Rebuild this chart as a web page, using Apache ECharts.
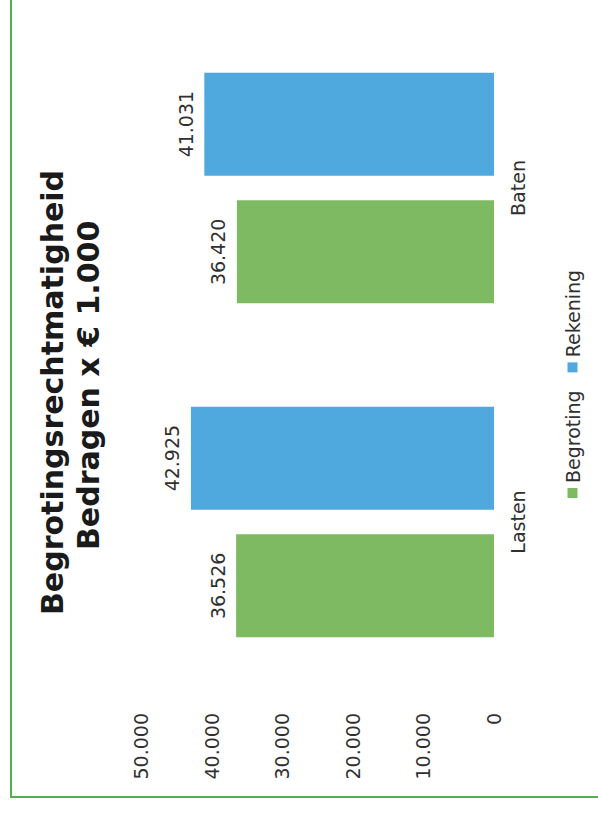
<!DOCTYPE html>
<html>
<head>
<meta charset="utf-8">
<script src="https://cdn.jsdelivr.net/npm/echarts@6/dist/echarts.min.js"></script>
<style>
  html, body { margin: 0; padding: 0; width: 598px; height: 816px; overflow: hidden; background: #ffffff; }
  #chart {
    position: absolute; left: 0; top: 0;
    width: 816px; height: 598px;
    transform-origin: 0 0;
    transform: translate(0, 816px) rotate(-90deg);
  }
</style>
</head>
<body>
<div id="chart"></div>
<script>
// ---- data ----
const categories = ['Lasten', 'Baten'];
const seriesNames = ['Begroting', 'Rekening'];
const begroting = [36526, 36420];
const rekening = [42925, 41031];
const titleLines = ['Begrotingsrechtmatigheid', 'Bedragen x \u20AC 1.000'];
const axisMin = 0;
const axisMax = 50000;
const axisStep = 10000;

function fmt(v) {
  const s = Math.round(v).toString();
  return s.replace(/\B(?=(\d{3})+(?!\d))/g, '.');
}

const FONT = 'DejaVu Sans';
const chart = echarts.init(document.getElementById('chart'), null, { renderer: 'svg', width: 816, height: 598 });

chart.setOption({
  animation: false,
  backgroundColor: '#ffffff',
  textStyle: { fontFamily: FONT },
  graphic: [{
    type: 'rect',
    shape: { x: 19, y: 11, width: 900, height: 700 },
    style: { fill: 'none', stroke: '#55ad4c', lineWidth: 2 },
    silent: true
  }],
  title: [
    { text: titleLines[0], left: 196, top: 32, textStyle: { fontFamily: FONT, fontSize: 30, fontWeight: 'bold', color: '#1a1a1a' } },
    { text: titleLines[1], left: 261, top: 68, textStyle: { fontFamily: FONT, fontSize: 30, fontWeight: 'bold', color: '#1a1a1a' } }
  ],
  legend: {
    data: seriesNames,
    left: 313, top: 558,
    icon: 'rect', itemWidth: 10, itemHeight: 10, itemGap: 18,
    textStyle: { fontFamily: FONT, fontSize: 19, color: '#303030' }
  },
  grid: { left: 127, right: 21, top: 141, bottom: 104, containLabel: false },
  xAxis: {
    type: 'category', data: categories,
    axisLine: { show: false }, axisTick: { show: false },
    axisLabel: { fontFamily: FONT, fontSize: 19, color: '#303030', margin: 14 }
  },
  yAxis: {
    type: 'value', min: axisMin, max: axisMax, interval: axisStep,
    axisLine: { show: false }, axisTick: { show: false },
    splitLine: { show: false },
    axisLabel: { fontFamily: FONT, fontSize: 19, color: '#303030', margin: 24, formatter: fmt }
  },
  series: [
    {
      name: seriesNames[0], type: 'bar', data: begroting,
      barWidth: 103, barGap: '24%',
      itemStyle: { color: '#7dba62' },
      label: { show: true, position: 'top', distance: 9, fontFamily: FONT, fontSize: 19, color: '#303030', formatter: p => fmt(p.value) }
    },
    {
      name: seriesNames[1], type: 'bar', data: rekening,
      barWidth: 103, barGap: '24%',
      itemStyle: { color: '#4fa9df' },
      label: { show: true, position: 'top', distance: 9, fontFamily: FONT, fontSize: 19, color: '#303030', formatter: p => fmt(p.value) }
    }
  ]
});
</script>
</body>
</html>
